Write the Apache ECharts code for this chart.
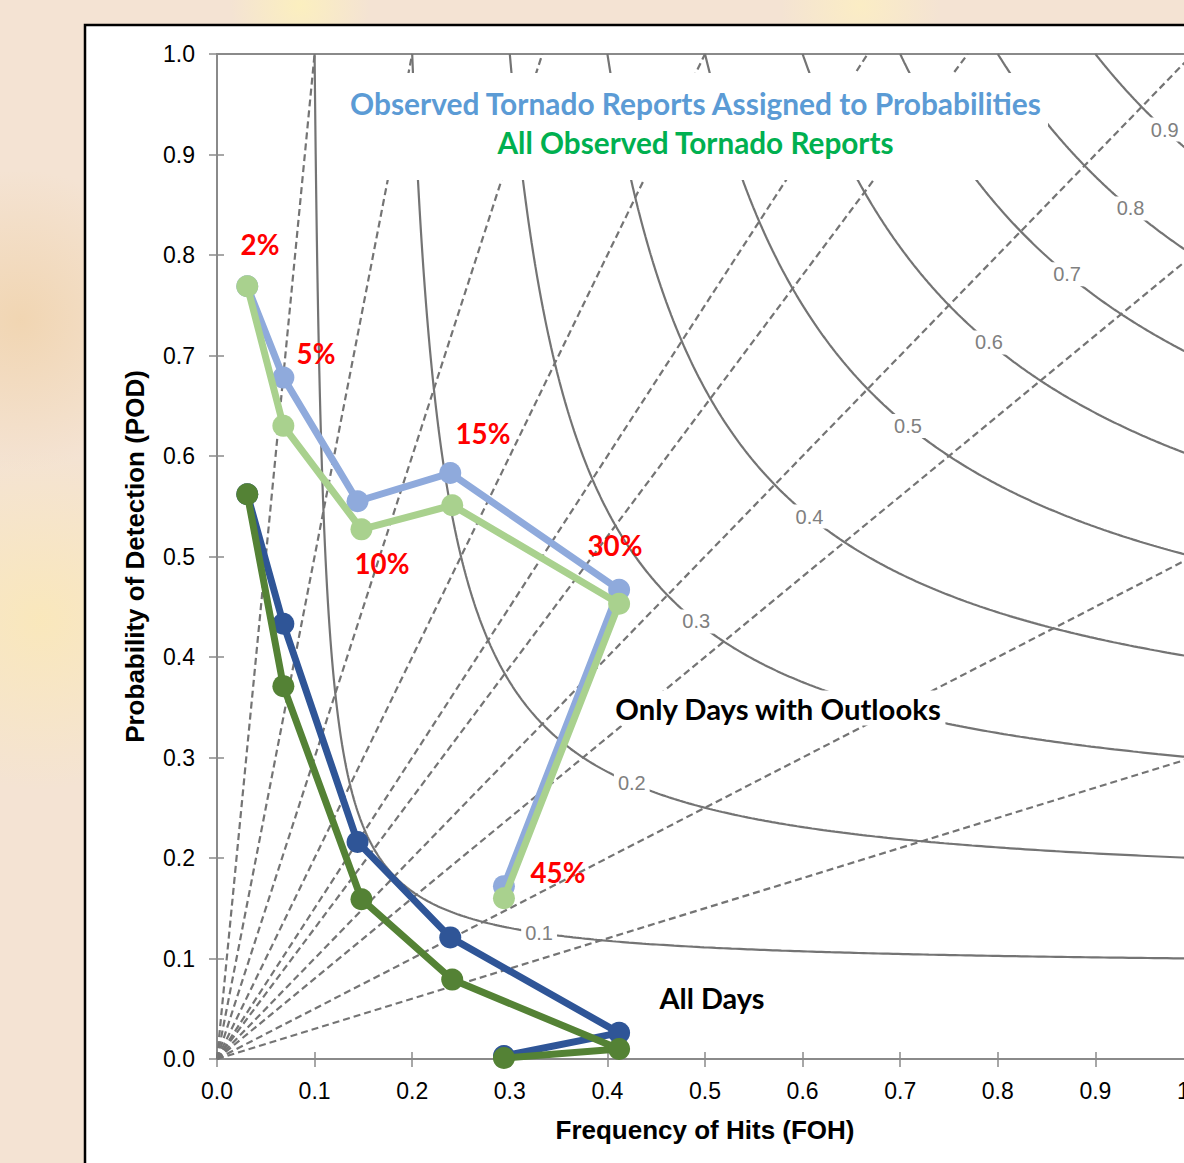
<!DOCTYPE html>
<html>
<head>
<meta charset="utf-8">
<script src="https://cdn.jsdelivr.net/npm/echarts@6/dist/echarts.min.js"></script>
<style>
html,body{margin:0;padding:0;width:1184px;height:1163px;overflow:hidden;}
body{background:
 radial-gradient(circle at 300px 5px, rgba(252,240,190,0.95) 0, rgba(252,240,190,0) 70px),
 radial-gradient(circle at 860px 5px, rgba(252,238,195,0.9) 0, rgba(252,238,195,0) 80px),
 radial-gradient(circle at 40px 620px, rgba(250,232,185,0.9) 0, rgba(250,232,185,0) 170px),
 radial-gradient(circle at 20px 320px, rgba(240,210,170,0.8) 0, rgba(240,210,170,0) 150px),
 #f4e3d3;}
#chart{width:1184px;height:1163px;}
</style>
</head>
<body>
<div id="chart"></div>
<script>
// ---------- data ----------
const probLabels = ['2%', '5%', '10%', '15%', '30%', '45%'];
// Only days with outlooks
const fohAssignedOutlook = [0.031, 0.068, 0.144, 0.239, 0.412, 0.294];
const podAssignedOutlook = [0.769, 0.678, 0.555, 0.583, 0.467, 0.172];
const fohAllOutlook      = [0.031, 0.068, 0.148, 0.241, 0.412, 0.294];
const podAllOutlook      = [0.769, 0.630, 0.527, 0.551, 0.453, 0.160];
// All days
const fohAssignedAllDays = [0.031, 0.068, 0.144, 0.239, 0.412, 0.294];
const podAssignedAllDays = [0.562, 0.433, 0.216, 0.121, 0.026, 0.003];
const fohAllAllDays      = [0.031, 0.068, 0.148, 0.241, 0.412, 0.294];
const podAllAllDays      = [0.562, 0.371, 0.159, 0.079, 0.010, 0.001];
// reference lines
const csiLevels  = [0.1, 0.2, 0.3, 0.4, 0.5, 0.6, 0.7, 0.8, 0.9];
const csiLabelFoh = [0.330, 0.425, 0.491, 0.607, 0.708, 0.791, 0.871, 0.936, 0.971];
const biasLevels = [0.3, 0.5, 0.8, 1, 1.3, 1.5, 2, 3, 5, 10];
const axisTickLabels = ['0.0','0.1','0.2','0.3','0.4','0.5','0.6','0.7','0.8','0.9','1.0'];

// ---------- helpers ----------
const mctx = document.createElement('canvas').getContext('2d');
function fitSize(text, weight, family, target) {
  mctx.font = weight + ' 100px ' + family;
  return 100 * target / mctx.measureText(text).width;
}
function pairs(xs, ys) { return xs.map((x, i) => [x, ys[i]]); }
function csiCurve(c) {
  const pts = [];
  const n = 400;
  for (let i = 0; i <= n; i++) {
    const t = i / n;
    const sr = c + (1 - c) * t * t * t;
    const pod = 1 / (1 / c + 1 - 1 / sr);
    pts.push([sr, Math.min(1, pod)]);
  }
  return pts;
}
function biasLine(b) {
  return b >= 1 ? [[0, 0], [1 / b, 1]] : [[0, 0], [1, b]];
}

const GRAY = '#747474';
const AXIS = '#8a8a8a';
const TITLE_FONT = 'Lato';
const LBL_FONT = 'Liberation Sans';

const series = [];
biasLevels.forEach(b => series.push({
  type: 'line', xAxisIndex: 0, yAxisIndex: 0, data: biasLine(b), symbol: 'none', silent: true, z: 1,
  lineStyle: { color: GRAY, width: 2.2, type: [7, 4] }, animation: false
}));
csiLevels.forEach(c => series.push({
  type: 'line', xAxisIndex: 0, yAxisIndex: 0, data: csiCurve(c), symbol: 'none', silent: true, z: 1,
  lineStyle: { color: GRAY, width: 2.2 }, animation: false
}));
series.push({
  type: 'scatter', xAxisIndex: 0, yAxisIndex: 0, z: 3, symbolSize: 0, silent: true, animation: false,
  data: csiLevels.map((c, i) => {
    const sr = csiLabelFoh[i];
    return { name: c.toFixed(1), value: [sr, 1 / (1 / c + 1 - 1 / sr)] };
  }),
  label: { show: true, position: 'inside', formatter: '{b}', fontSize: 20, fontFamily: LBL_FONT,
    color: '#808080', opacity: 1, backgroundColor: '#ffffff', padding: [2, 4] }
});
function dataSeries(name, xs, ys, color, z) {
  return {
    name, type: 'line', xAxisIndex: 0, yAxisIndex: 0, data: pairs(xs, ys), z,
    symbol: 'circle', symbolSize: 22, showSymbol: true, animation: false,
    lineStyle: { color, width: 7 }, itemStyle: { color }
  };
}
series.push(dataSeries('Assigned (outlook days)', fohAssignedOutlook, podAssignedOutlook, '#8faadc', 5));
series.push(dataSeries('All (outlook days)', fohAllOutlook, podAllOutlook, '#a9d18e', 6));
series.push(dataSeries('Assigned (all days)', fohAssignedAllDays, podAssignedAllDays, '#2f5597', 7));
series.push(dataSeries('All (all days)', fohAllAllDays, podAllAllDays, '#548235', 8));

const gridRect = { left: 217, top: 54, width: 976, height: 1005 };
const labelFmt = v => axisTickLabels[Math.round(v * 10)];

function baseAxis(extra) {
  return Object.assign({
    type: 'value', min: 0, max: 1, interval: 0.1,
    splitLine: { show: false },
    nameMoveOverlap: false,
    axisLine: { show: true, onZero: false, lineStyle: { color: AXIS, width: 2 } },
    axisTick: { show: true, length: 8, lineStyle: { color: AXIS, width: 1.5 } }
  }, extra);
}

const pctSize = fitSize('10%', 'bold', TITLE_FONT, 55);
const pctPos = [[260, 244], [316, 353], [382, 563], [483, 433], [615, 545], [558, 872]];

const graphics = [
  { type: 'rect', z: -10, silent: true, shape: { x: 85, y: 25, width: 1200, height: 1200 },
    style: { fill: '#ffffff', stroke: '#000000', lineWidth: 2.5 } },
  { type: 'rect', z: 50, silent: true, shape: { x: 335, y: 73, width: 713, height: 107 },
    style: { fill: '#ffffff' } },
  { type: 'text', z: 60, x: 695.5, y: 103, silent: true,
    style: { text: 'Observed Tornado Reports Assigned to Probabilities',
      font: 'bold ' + fitSize('Observed Tornado Reports Assigned to Probabilities', 'bold', TITLE_FONT, 693).toFixed(2) + 'px ' + TITLE_FONT,
      fill: '#5b9bd5', align: 'center', verticalAlign: 'middle', textAlign: 'center', textVerticalAlign: 'middle' } },
  { type: 'text', z: 60, x: 695.5, y: 142, silent: true,
    style: { text: 'All Observed Tornado Reports',
      font: 'bold ' + fitSize('All Observed Tornado Reports', 'bold', TITLE_FONT, 397).toFixed(2) + 'px ' + TITLE_FONT,
      fill: '#00b050', align: 'center', verticalAlign: 'middle', textAlign: 'center', textVerticalAlign: 'middle' } },
  { type: 'text', z: 60, x: 778, y: 708, silent: true,
    style: { text: 'Only Days with Outlooks',
      font: 'bold ' + fitSize('Only Days with Outlooks', 'bold', TITLE_FONT, 327).toFixed(2) + 'px ' + TITLE_FONT,
      fill: '#000000', align: 'center', verticalAlign: 'middle', textAlign: 'center', textVerticalAlign: 'middle',
      backgroundColor: '#ffffff', padding: [3, 4] } },
  { type: 'text', z: 60, x: 712, y: 997, silent: true,
    style: { text: 'All Days',
      font: 'bold ' + fitSize('All Days', 'bold', TITLE_FONT, 105).toFixed(2) + 'px ' + TITLE_FONT,
      fill: '#000000', align: 'center', verticalAlign: 'middle', textAlign: 'center', textVerticalAlign: 'middle' } }
];
probLabels.forEach((t, i) => graphics.push({
  type: 'text', z: 60, x: pctPos[i][0], y: pctPos[i][1], silent: true,
  style: { text: t, font: 'bold ' + pctSize.toFixed(2) + 'px ' + TITLE_FONT, fill: '#ff0000',
    align: 'center', verticalAlign: 'middle', textAlign: 'center', textVerticalAlign: 'middle' }
}));

const option = {
  backgroundColor: 'transparent',
  animation: false,
  grid: [
    Object.assign({ show: true, borderColor: AXIS, borderWidth: 2, backgroundColor: 'transparent',
      containLabel: false, outerBoundsMode: 'none' }, gridRect),
    Object.assign({ show: false, containLabel: false, outerBoundsMode: 'none' }, gridRect)
  ],
  xAxis: [
    baseAxis({ gridIndex: 0, position: 'bottom',
      axisLabel: { formatter: labelFmt, fontSize: 23, fontFamily: LBL_FONT, color: '#000', margin: 20 },
      name: 'Frequency of Hits (FOH)', nameLocation: 'middle', nameGap: 58,
      nameTextStyle: { fontSize: 26, fontWeight: 'bold', fontFamily: LBL_FONT, color: '#000' } }),
    baseAxis({ gridIndex: 1, position: 'bottom', axisLabel: { show: false },
      axisTick: { show: true, inside: true, length: 7, lineStyle: { color: AXIS, width: 1.5 } } })
  ],
  yAxis: [
    baseAxis({ gridIndex: 0, position: 'left',
      axisLabel: { formatter: labelFmt, fontSize: 23, fontFamily: LBL_FONT, color: '#000', margin: 22 },
      name: 'Probability of Detection (POD)', nameLocation: 'middle', nameGap: 69,
      nameTextStyle: { fontSize: 26, fontWeight: 'bold', fontFamily: LBL_FONT, color: '#000' } }),
    baseAxis({ gridIndex: 1, position: 'left', axisLabel: { show: false },
      axisTick: { show: true, inside: true, length: 7, lineStyle: { color: AXIS, width: 1.5 } } })
  ],
  graphic: { elements: graphics },
  series
};

const chart = echarts.init(document.getElementById('chart'), null, { renderer: 'svg' });
chart.setOption(option);
</script>
</body>
</html>
